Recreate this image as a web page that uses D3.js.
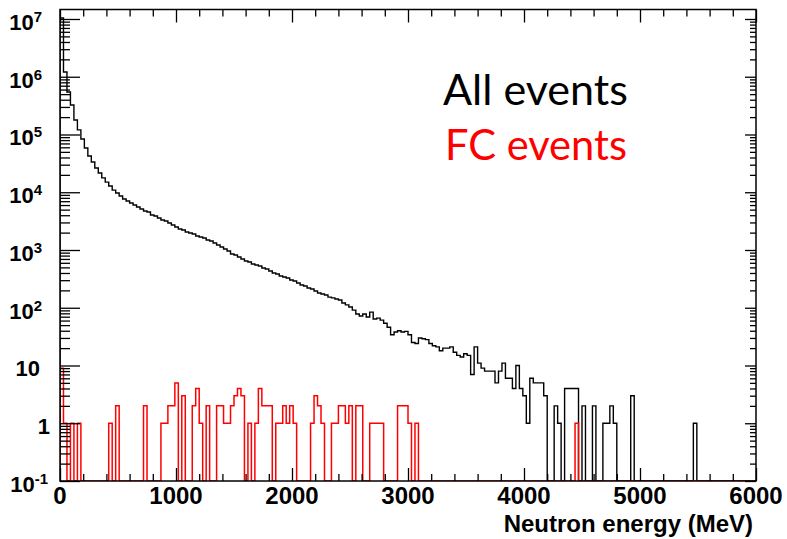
<!DOCTYPE html>
<html><head><meta charset="utf-8">
<script src="https://cdn.jsdelivr.net/npm/d3@7"></script>
<style>
html,body{margin:0;padding:0;background:#fff;}
svg{display:block;}
</style></head><body>
<svg id="chart" width="787" height="539"></svg>
<script>
// ---------------- data ----------------
const binWidthMeV = 30;
const energyRange = [0, 6000];
const countRange = [0.1, 1.46e7];

const allEvents = [
  10400000, 1210000, 545000, 324000, 178000, 120000, 83600, 58300, 42500, 33400,
  26300, 21500, 17700, 15000, 12800, 10900, 9700, 8600, 7640, 7060,
  6520, 6010, 5560, 5130, 4730, 4550, 4040, 3880, 3580, 3310,
  3180, 2940, 2710, 2500, 2310, 2220, 2050, 1970, 1890, 1750,
  1680, 1610, 1490, 1430, 1320, 1220, 1130, 1040, 961, 853,
  819, 757, 698, 645, 620, 573, 550, 528, 488, 469,
  433, 400, 384, 355, 341, 327, 303, 290, 268, 248,
  238, 220, 211, 195, 180, 173, 166, 153, 148, 142,
  136, 121, 112, 103, 91, 78, 72, 78, 69, 84,
  64, 66, 61, 54, 46, 34, 38, 40, 38, 39,
  34, 25, 24, 30, 29, 28, 24, 22, 21, 18,
  20, 20, 21, 17, 15, 14, 16, 15, 7, 21,
  11, 9, 8, 8, 8, 5, 8, 11, 6, 6,
  4, 10, 4, 3, 1, 6, 5, 5, 5, 3,
  0, 0, 2, 1, 0, 4, 4, 4, 4, 0,
  2, 0, 0, 2, 0, 0, 1, 1, 2, 1,
  0, 0, 0, 0, 3, 0, 0, 0, 0, 0,
  0, 0, 0, 0, 0, 0, 0, 0, 0, 0,
  0, 0, 1, 0, 0, 0, 0, 0, 0, 0,
  0, 0, 0, 0, 0, 0, 0, 0, 0, 0
];

const fcEvents = [
  9, 1, 0, 1, 0, 1, 0, 0, 0, 0,
  0, 0, 0, 0, 1, 0, 2, 0, 0, 0,
  0, 0, 0, 0, 2, 0, 0, 0, 0, 1,
  1, 2, 2, 5, 0, 3, 0, 0, 2, 4,
  1, 0, 2, 0, 0, 2, 2, 1, 1, 2,
  3, 4, 3, 0, 1, 0, 1, 4, 2, 2,
  2, 0, 1, 1, 2, 1, 2, 1, 0, 0,
  0, 0, 1, 3, 2, 1, 0, 0, 1, 1,
  2, 2, 1, 2, 0, 2, 2, 0, 0, 1,
  1, 1, 1, 0, 0, 0, 0, 2, 2, 2,
  1, 0, 1, 0, 0, 0, 0, 0, 0, 0,
  0, 0, 0, 0, 0, 0, 0, 0, 0, 0,
  0, 0, 0, 0, 0, 0, 0, 0, 0, 0,
  0, 0, 0, 0, 0, 0, 0, 0, 0, 0,
  0, 0, 0, 0, 0, 0, 0, 0, 1, 0,
  0, 0, 0, 0, 0, 0, 0, 0, 0, 0,
  0, 0, 0, 0, 0, 0, 0, 0, 0, 0,
  0, 0, 0, 0, 0, 0, 0, 0, 0, 0,
  0, 0, 0, 0, 0, 0, 0, 0, 0, 0,
  0, 0, 0, 0, 0, 0, 0, 0, 0, 0
];

const xMajorTicks = [0, 1000, 2000, 3000, 4000, 5000, 6000];
const xMinorStep = 200;
const yDecadeExponents = [-1, 0, 1, 2, 3, 4, 5, 6, 7];
const seriesNames = ["All events", "FC events"];
const seriesColors = ["#000000", "#ff0000"];
const xAxisTitle = "Neutron energy (MeV)";

// ---------------- layout ----------------
const plot = {left: 60, right: 756, top: 9.5, bottom: 481};
const axisFont = "'Liberation Sans', Arial, Helvetica, sans-serif";
const svg = d3.select("#chart");

const x = d3.scaleLinear().domain(energyRange).range([plot.left, plot.right]);
const y = d3.scaleLog().domain(countRange).range([plot.bottom, plot.top]).clamp(true);

svg.append("rect").attr("width", 787).attr("height", 539).attr("fill", "#fff");

svg.append("defs").append("clipPath").attr("id", "clip").append("rect")
  .attr("x", plot.left).attr("y", plot.top)
  .attr("width", plot.right - plot.left).attr("height", plot.bottom - plot.top);

// ---------------- histograms ----------------
function stepPoints(values) {
  const pts = [[energyRange[0], countRange[0]]];
  values.forEach((v, i) => pts.push([i * binWidthMeV, v]));
  const end = values.length * binWidthMeV;
  pts.push([end, values[values.length - 1]]);
  pts.push([end, countRange[0]]);
  return pts;
}
const line = d3.line()
  .x(d => x(d[0]))
  .y(d => y(d[1] > 0 ? d[1] : countRange[0]))
  .curve(d3.curveStepAfter);

const g = svg.append("g").attr("clip-path", "url(#clip)");
[allEvents, fcEvents].forEach((vals, k) => {
  g.append("path").attr("d", line(stepPoints(vals)))
    .attr("fill", "none").attr("stroke", seriesColors[k])
    .attr("stroke-width", k === 0 ? 1.4 : 1.5)
    .attr("stroke-linejoin", "miter");
});

// ---------------- axes (ticks) ----------------
const xMinor = d3.range(energyRange[0], energyRange[1] + 1, xMinorStep)
  .filter(v => !xMajorTicks.includes(v));
const yMajor = yDecadeExponents.map(e => Math.pow(10, e));
const yMinor = [];
yDecadeExponents.forEach(e => { for (let k = 2; k <= 9; k++) { const v = k * Math.pow(10, e); if (v <= countRange[1]) yMinor.push(v); } });

function drawAxis(axisGen, transform) {
  const a = svg.append("g").attr("transform", transform).call(axisGen);
  a.select(".domain").remove();
  a.selectAll("line").attr("stroke", "#000").attr("stroke-width", 1.3);
  a.selectAll("text").remove();
}
drawAxis(d3.axisBottom(x).tickValues(xMajorTicks).tickSize(-13), `translate(0,${plot.bottom})`);
drawAxis(d3.axisBottom(x).tickValues(xMinor).tickSize(-7), `translate(0,${plot.bottom})`);
drawAxis(d3.axisTop(x).tickValues(xMajorTicks).tickSize(-13), `translate(0,${plot.top})`);
drawAxis(d3.axisTop(x).tickValues(xMinor).tickSize(-7), `translate(0,${plot.top})`);
drawAxis(d3.axisLeft(y).tickValues(yMajor).tickSize(-20), `translate(${plot.left},0)`);
drawAxis(d3.axisLeft(y).tickValues(yMinor).tickSize(-10), `translate(${plot.left},0)`);
drawAxis(d3.axisRight(y).tickValues(yMajor).tickSize(-11), `translate(${plot.right},0)`);
drawAxis(d3.axisRight(y).tickValues(yMinor).tickSize(-6), `translate(${plot.right},0)`);

// frame
svg.append("rect").attr("x", plot.left).attr("y", plot.top)
  .attr("width", plot.right - plot.left).attr("height", plot.bottom - plot.top)
  .attr("fill", "none").attr("stroke", "#000").attr("stroke-width", 1.5);

// ---------------- tick labels ----------------
svg.append("g").selectAll("text").data(xMajorTicks).join("text")
  .attr("x", d => x(d)).attr("y", 504)
  .attr("text-anchor", "middle")
  .attr("font-family", axisFont).attr("font-weight", "bold").attr("font-size", 24)
  .attr("fill", "#000")
  .text(d => d);

const yl = svg.append("g").attr("font-family", axisFont).attr("font-weight", "bold").attr("fill", "#000");
yDecadeExponents.forEach(e => {
  const v = Math.pow(10, e);
  const ty = y(v) + 11;
  if (e === 0 || e === 1) {
    yl.append("text").attr("x", e === 0 ? 50 : 40).attr("y", ty)
      .attr("text-anchor", "end").attr("font-size", 22).text(e === 0 ? "1" : "10");
  } else {
    const t = yl.append("text").attr("x", e < 0 ? 48 : 42).attr("y", ty)
      .attr("text-anchor", "end").attr("font-size", 22);
    t.append("tspan").text("10");
    t.append("tspan").attr("dy", -8).attr("font-size", 15).text(String(e));
  }
});

// axis title
svg.append("text").attr("x", 753).attr("y", 532)
  .attr("text-anchor", "end")
  .attr("font-family", axisFont).attr("font-weight", "bold").attr("font-size", 24)
  .attr("fill", "#000").text(xAxisTitle);

// ---------------- legend ----------------
const legendPos = [{x: 443, y: 105, w: 185}, {x: 445, y: 160, w: 182}];
seriesNames.forEach((name, k) => {
  const t = svg.append("text").attr("x", legendPos[k].x).attr("y", legendPos[k].y)
    .attr("font-family", "Lato, 'Open Sans', sans-serif").attr("font-size", 42)
    .attr("fill", seriesColors[k]).text(name);
  const w = t.node().getComputedTextLength();
  if (w > 0) t.attr("font-size", 42 * legendPos[k].w / w);
});
</script>
</body></html>
